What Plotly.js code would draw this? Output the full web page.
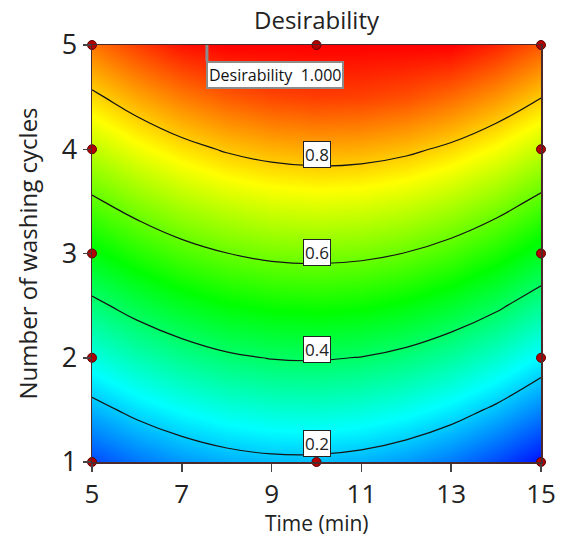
<!DOCTYPE html>
<html>
<head>
<meta charset="utf-8">
<script src="https://cdn.plot.ly/plotly-3.0.1.min.js"></script>
<style>
  html, body { margin: 0; padding: 0; background: #fff; }
  #chart { width: 566px; height: 538px; }
</style>
</head>
<body>
<div id="chart"></div>
<script>
// ---- data ----
const timeMin = [5, 6, 7, 8, 9, 10, 11, 12, 13, 14, 15];
const washCycles = [1, 1.5, 2, 2.5, 3, 3.5, 4, 4.5, 5];
// desirability rows (one per washCycles value), columns follow timeMin
const desirability = [
  [0.072, 0.114, 0.148, 0.171, 0.183, 0.184, 0.174, 0.152, 0.119, 0.073, 0.016],
  [0.175, 0.220, 0.254, 0.279, 0.293, 0.296, 0.286, 0.265, 0.232, 0.187, 0.130],
  [0.278, 0.325, 0.361, 0.388, 0.403, 0.406, 0.398, 0.378, 0.345, 0.300, 0.243],
  [0.381, 0.429, 0.467, 0.494, 0.509, 0.514, 0.507, 0.488, 0.457, 0.414, 0.357],
  [0.485, 0.533, 0.572, 0.599, 0.616, 0.621, 0.615, 0.598, 0.568, 0.525, 0.470],
  [0.588, 0.636, 0.675, 0.703, 0.721, 0.728, 0.723, 0.706, 0.677, 0.636, 0.582],
  [0.687, 0.737, 0.777, 0.807, 0.826, 0.834, 0.830, 0.814, 0.786, 0.745, 0.692],
  [0.786, 0.837, 0.879, 0.911, 0.931, 0.940, 0.937, 0.923, 0.895, 0.855, 0.802],
  [0.885, 0.938, 0.982, 1.000, 1.000, 1.000, 1.000, 1.000, 1.000, 0.964, 0.912]
];
const contourLevels = [0.2, 0.4, 0.6, 0.8];
const labelTime = 10;
const designTime = [5, 5, 5, 5, 5, 10, 10, 10, 10, 10, 15, 15, 15, 15, 15];
const designCycles = [1, 2, 3, 4, 5, 1, 2, 3, 4, 5, 1, 2, 3, 4, 5];
const optTime = 7.56;
const optCycles = 5;
const optDesirability = 1.000;
const xTicks = [5, 7, 9, 11, 13, 15];
const yTicks = [1, 2, 3, 4, 5];
const xTitle = 'Time (min)';
const yTitle = 'Number of washing cycles';
const chartTitle = 'Desirability';

// ---- chart ----
const FONT = '"Open Sans", "Noto Sans", "DejaVu Sans", sans-serif';
const colorscale = [
  [0, 'rgb(0,0,255)'],
  [0.25, 'rgb(0,255,255)'],
  [0.5, 'rgb(0,255,0)'],
  [0.75, 'rgb(255,255,0)'],
  [1, 'rgb(255,0,0)']
];

const heat = {
  type: 'heatmap', x: timeMin, y: washCycles, z: desirability,
  zmin: 0, zmax: 1, colorscale: colorscale, zsmooth: 'best',
  showscale: false, hoverinfo: 'skip'
};
const lines = {
  type: 'contour', x: timeMin, y: washCycles, z: desirability,
  contours: { start: contourLevels[0], end: contourLevels[contourLevels.length - 1],
              size: contourLevels[1] - contourLevels[0], coloring: 'none', showlabels: false },
  line: { color: '#141414', width: 1.2, smoothing: 1.3 },
  showscale: false, hoverinfo: 'skip'
};
const pts = {
  type: 'scatter', mode: 'markers', x: designTime, y: designCycles,
  marker: { color: '#b30000', size: 9, line: { color: '#5a0000', width: 1 } },
  cliponaxis: false, hoverinfo: 'skip'
};

// locate where each level crosses the labelTime column (from the data)
const col = timeMin.indexOf(labelTime);
function levelY(level) {
  for (let i = 0; i < washCycles.length - 1; i++) {
    const a = desirability[i][col], b = desirability[i + 1][col];
    if ((a - level) * (b - level) <= 0 && a !== b) {
      return washCycles[i] + (washCycles[i + 1] - washCycles[i]) * (level - a) / (b - a);
    }
  }
  return null;
}

const annotations = contourLevels.map(l => ({
  x: labelTime, y: levelY(l), xref: 'x', yref: 'y',
  text: l.toFixed(1), showarrow: false, xanchor: 'center', yanchor: 'bottom', yshift: -2,
  bgcolor: '#ffffff', bordercolor: '#222', borderwidth: 1, borderpad: 1,
  font: { family: FONT, size: 17, color: '#222' }
}));
annotations.push({
  x: optTime, y: optCycles, xref: 'x', yref: 'y',
  text: 'Desirability&nbsp;&nbsp;' + optDesirability.toFixed(3),
  showarrow: false, xanchor: 'left', yanchor: 'top', yshift: -16, xshift: -1,
  bgcolor: '#ffffff', bordercolor: '#8c8c8c', borderwidth: 2, borderpad: 1,
  font: { family: FONT, size: 16, color: '#111' }
});
// x-axis title placed below the tick labels
annotations.push({
  x: 0.5, y: 0, xref: 'paper', yref: 'paper', text: xTitle, showarrow: false,
  xanchor: 'center', yanchor: 'top', yshift: -46, borderpad: 0,
  font: { family: FONT, size: 21, color: '#222' }
});

const layout = {
  width: 566, height: 538,
  margin: { l: 92, r: 25, t: 45, b: 76 },
  paper_bgcolor: '#fff', plot_bgcolor: '#fff',
  font: { family: FONT, color: '#222' },
  showlegend: false,
  title: { text: chartTitle, font: { family: FONT, size: 24, color: '#222' },
           xref: 'paper', x: 0.5, xanchor: 'center', yref: 'container', y: 0.962, yanchor: 'middle' },
  xaxis: {
    range: [5, 15], tickvals: xTicks, ticktext: xTicks.map(String),
    ticks: 'outside', ticklen: 8, tickcolor: '#444', tickwidth: 1.5, ticklabelstandoff: 0,
    showgrid: false, zeroline: false, showline: true, linecolor: '#4a2a2a', linewidth: 1.5, mirror: true,
    tickfont: { family: FONT, size: 26, color: '#222' }
  },
  yaxis: {
    range: [1, 5], tickvals: yTicks, ticktext: yTicks.map(String),
    ticks: 'outside', ticklen: 8, tickcolor: '#444', tickwidth: 1.5,
    showgrid: false, zeroline: false, showline: true, linecolor: '#4a2a2a', linewidth: 1.5, mirror: true,
    tickfont: { family: FONT, size: 27, color: '#222' },
    title: { text: yTitle, font: { family: FONT, size: 24, color: '#222' }, standoff: 17 }
  },
  shapes: [{
    type: 'line', xref: 'x', yref: 'y', x0: optTime, x1: optTime, y0: optCycles,
    y1: optCycles - 16 / 104.25, line: { color: '#8c8c8c', width: 3 }
  }],
  annotations: annotations
};

Plotly.newPlot('chart', [heat, lines, pts], layout, { staticPlot: true, displayModeBar: false });
</script>
</body>
</html>
